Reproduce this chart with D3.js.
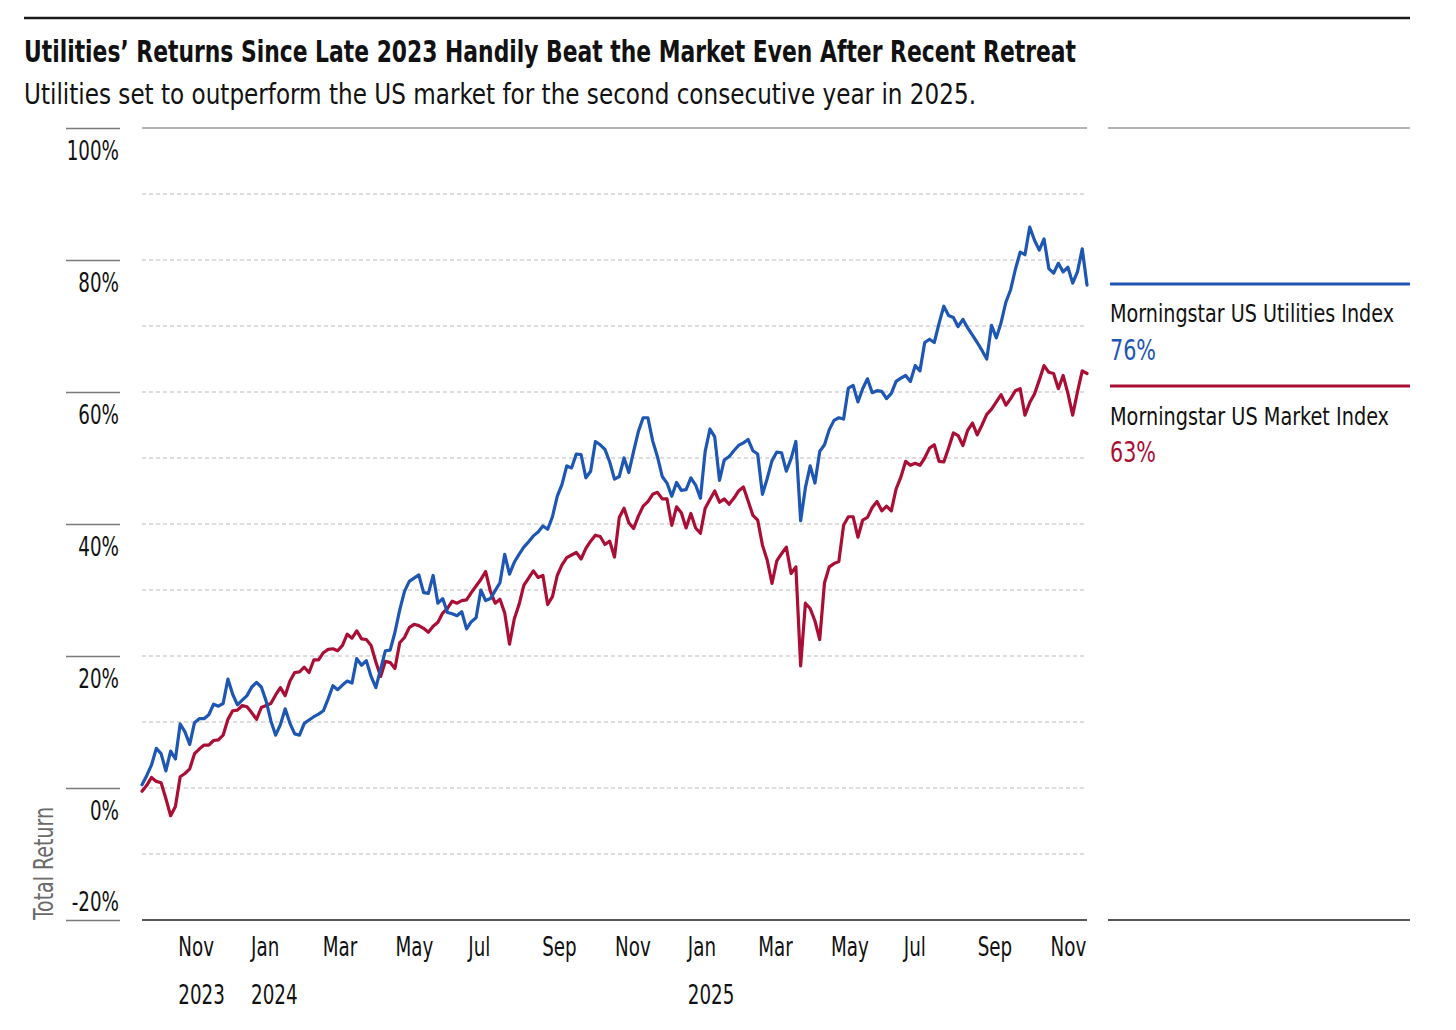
<!DOCTYPE html>
<html><head><meta charset="utf-8">
<script src="https://cdn.jsdelivr.net/npm/d3@7"></script>
<style>
body{margin:0;background:#fff}
svg text{font-family:"Liberation Sans Narrow","Arial Narrow","DejaVu Sans Condensed",Roboto,sans-serif;}
</style></head><body>
<svg id="c" width="1456" height="1030"></svg>
<script>
const titleText = "Utilities’ Returns Since Late 2023 Handily Beat the Market Even After Recent Retreat";
const subtitleText = "Utilities set to outperform the US market for the second consecutive year in 2025.";
const seriesNames = ["Morningstar US Utilities Index", "Morningstar US Market Index"];
const finalLabels = ["76%", "63%"];
const yTicks = [100, 80, 60, 40, 20, 0, -20];
const gridVals = [90, 80, 70, 60, 50, 40, 30, 20, 10, 0, -10];
const monthTicks = ["2023-11-01","2024-01-01","2024-03-01","2024-05-01","2024-07-01","2024-09-01","2024-11-01","2025-01-01","2025-03-01","2025-05-01","2025-07-01","2025-09-01","2025-11-01"];
const monthLabels = ["Nov","Jan","Mar","May","Jul","Sep","Nov","Jan","Mar","May","Jul","Sep","Nov"];
const yearTicks = ["2023-11-01","2024-01-01","2025-01-01"];
const yearLabels = ["2023","2024","2025"];

const dates = [
"2023-10-02","2023-10-06","2023-10-10","2023-10-14","2023-10-18","2023-10-22","2023-10-26","2023-10-30",
"2023-11-03","2023-11-07","2023-11-11","2023-11-15","2023-11-19","2023-11-23","2023-11-27",
"2023-12-01","2023-12-05","2023-12-09","2023-12-13","2023-12-17","2023-12-21","2023-12-25","2023-12-29",
"2024-01-02","2024-01-06","2024-01-10","2024-01-14","2024-01-18","2024-01-22","2024-01-26","2024-01-30",
"2024-02-03","2024-02-07","2024-02-11","2024-02-15","2024-02-19","2024-02-23","2024-02-27",
"2024-03-02","2024-03-06","2024-03-10","2024-03-14","2024-03-18","2024-03-22","2024-03-26","2024-03-30",
"2024-04-03","2024-04-07","2024-04-11","2024-04-15","2024-04-19","2024-04-23","2024-04-27",
"2024-05-01","2024-05-05","2024-05-09","2024-05-13","2024-05-17","2024-05-21","2024-05-25","2024-05-29",
"2024-06-02","2024-06-06","2024-06-10","2024-06-14","2024-06-18","2024-06-22","2024-06-26","2024-06-30",
"2024-07-04","2024-07-08","2024-07-12","2024-07-16","2024-07-20","2024-07-24","2024-07-28",
"2024-08-01","2024-08-05","2024-08-09","2024-08-13","2024-08-17","2024-08-21","2024-08-25","2024-08-29",
"2024-09-02","2024-09-06","2024-09-10","2024-09-14","2024-09-18","2024-09-22","2024-09-26","2024-09-30",
"2024-10-04","2024-10-08","2024-10-12","2024-10-16","2024-10-20","2024-10-24","2024-10-28",
"2024-11-01","2024-11-05","2024-11-09","2024-11-13","2024-11-17","2024-11-21","2024-11-25","2024-11-29",
"2024-12-03","2024-12-07","2024-12-11","2024-12-15","2024-12-19","2024-12-23","2024-12-27","2024-12-31",
"2025-01-04","2025-01-08","2025-01-12","2025-01-16","2025-01-20","2025-01-24","2025-01-28",
"2025-02-01","2025-02-05","2025-02-09","2025-02-13","2025-02-17","2025-02-21","2025-02-25",
"2025-03-01","2025-03-05","2025-03-09","2025-03-13","2025-03-17","2025-03-21","2025-03-25","2025-03-29",
"2025-04-02","2025-04-06","2025-04-10","2025-04-14","2025-04-18","2025-04-22","2025-04-26","2025-04-30",
"2025-05-04","2025-05-08","2025-05-12","2025-05-16","2025-05-20","2025-05-24","2025-05-28",
"2025-06-01","2025-06-05","2025-06-09","2025-06-13","2025-06-17","2025-06-21","2025-06-25","2025-06-29",
"2025-07-03","2025-07-07","2025-07-11","2025-07-15","2025-07-19","2025-07-23","2025-07-27","2025-07-31",
"2025-08-04","2025-08-08","2025-08-12","2025-08-16","2025-08-20","2025-08-24","2025-08-28",
"2025-09-01","2025-09-05","2025-09-09","2025-09-13","2025-09-17","2025-09-21","2025-09-25","2025-09-29",
"2025-10-03","2025-10-07","2025-10-11","2025-10-15","2025-10-19","2025-10-23","2025-10-27","2025-10-31",
"2025-11-04","2025-11-08","2025-11-12","2025-11-16","2025-11-20","2025-11-24","2025-11-28","2025-12-02"
];

const utilities = [
0.5, 1.9, 3.5, 6.0, 5.2, 2.6, 5.6, 4.4, 9.7, 8.5,
6.6, 9.9, 10.5, 10.5, 11.1, 12.7, 12.4, 12.8, 16.5, 14.2,
12.6, 13.3, 14.0, 15.3, 16.0, 15.3, 13.2, 10.2, 8.0, 9.6,
12.0, 9.8, 8.2, 8.0, 9.8, 10.3, 10.8, 11.2, 11.7, 13.5,
15.5, 14.9, 15.6, 16.2, 15.9, 19.6, 18.6, 19.3, 16.9, 15.2,
18.0, 20.8, 20.9, 23.6, 27.0, 29.8, 31.3, 31.8, 32.3, 29.6,
29.5, 32.2, 28.0, 28.7, 26.6, 26.4, 26.1, 26.7, 24.1, 25.2,
25.8, 30.0, 28.4, 28.7, 29.9, 31.1, 35.4, 32.4, 34.2, 35.4,
36.5, 37.3, 38.2, 38.8, 39.7, 39.2, 41.1, 44.2, 46.0, 48.8,
48.5, 50.6, 50.5, 47.0, 48.0, 52.5, 52.0, 51.3, 49.4, 46.8,
47.2, 50.0, 47.8, 51.0, 54.0, 56.1, 56.1, 52.6, 50.2, 47.2,
46.2, 44.2, 46.3, 45.1, 45.2, 47.0, 45.9, 43.9, 51.0, 54.4,
53.2, 46.6, 49.7, 50.2, 51.1, 51.9, 52.3, 52.8, 51.1, 50.6,
44.5, 46.9, 49.6, 50.9, 50.8, 48.0, 49.9, 52.5, 40.5, 45.5,
48.8, 46.2, 51.0, 52.0, 54.3, 55.7, 56.1, 55.9, 60.6, 61.0,
58.5, 60.5, 62.0, 59.9, 60.2, 60.1, 59.0, 59.8, 61.6, 62.1,
62.5, 61.6, 64.0, 63.2, 67.5, 68.0, 67.5, 70.4, 73.0, 71.6,
71.3, 69.9, 71.0, 69.7, 68.6, 67.5, 66.3, 65.0, 70.1, 68.2,
70.5, 73.6, 75.5, 78.6, 81.2, 80.8, 85.0, 83.0, 81.5, 83.2,
78.7, 78.0, 79.5, 78.2, 78.9, 76.5, 78.2, 81.7, 76.2
];

const market = [
-0.5, 0.4, 1.6, 1.0, 0.8, -1.6, -4.2, -2.8, 1.7, 2.2,
2.9, 5.2, 5.9, 6.5, 6.5, 7.2, 7.3, 8.0, 10.4, 11.7,
11.8, 12.5, 12.3, 11.4, 10.4, 12.2, 12.5, 12.8, 14.1, 15.2,
14.0, 16.2, 17.5, 17.6, 18.3, 17.5, 19.4, 19.4, 20.5, 21.0,
21.1, 20.8, 21.6, 23.3, 22.7, 23.8, 22.6, 22.5, 21.6, 19.1,
16.9, 19.2, 19.0, 18.1, 22.0, 22.8, 24.3, 24.8, 24.6, 24.2,
23.6, 24.5, 25.1, 26.5, 27.2, 28.3, 28.0, 28.4, 28.5, 29.6,
30.6, 31.6, 32.8, 29.8, 28.0, 28.6, 26.5, 21.8, 25.6, 27.8,
30.7, 31.8, 32.9, 31.9, 32.2, 27.8, 29.0, 32.2, 33.8, 34.9,
35.3, 35.7, 34.7, 36.3, 37.4, 38.3, 38.1, 36.9, 37.4, 35.0,
41.0, 42.4, 40.2, 39.3, 41.2, 42.7, 43.4, 44.5, 44.8, 43.8,
43.8, 39.8, 42.6, 41.7, 39.4, 41.6, 39.4, 38.6, 42.4, 43.7,
45.0, 43.3, 43.8, 43.0, 43.9, 45.0, 45.6, 43.5, 41.3, 40.6,
36.8, 34.5, 31.0, 34.4, 35.5, 36.5, 32.5, 33.5, 18.5, 28.0,
27.2, 25.3, 22.5, 31.1, 33.5, 34.0, 34.3, 39.8, 41.1, 41.1,
38.0, 40.6, 41.0, 42.5, 43.4, 42.0, 42.7, 42.0, 45.3, 47.1,
49.5, 48.9, 49.2, 48.9, 50.0, 51.5, 52.0, 49.5, 49.4, 51.5,
53.8, 53.4, 51.9, 54.2, 55.3, 53.5, 55.0, 56.6, 57.4, 58.5,
59.6, 58.0, 59.0, 60.2, 60.5, 56.5, 58.4, 59.7, 61.8, 64.0,
63.0, 62.8, 60.5, 62.5, 59.8, 56.5, 60.0, 63.2, 62.8
];

const colors = ["#1d56b3", "#aa0e35"];

const parse = d3.utcParse("%Y-%m-%d");
const x = d3.scaleUtc().domain([parse("2023-10-02"), parse("2025-12-02")]).range([142, 1087]);
const y = d3.scaleLinear().domain([-20, 100]).range([920, 128]);
const svg = d3.select("#c");

function fitW(sel, w) { sel.attr("textLength", w).attr("lengthAdjust", "spacingAndGlyphs"); }
function condense(sel, f) {
  sel.each(function () {
    const n = this.getComputedTextLength();
    this.setAttribute("textLength", n * f);
    this.setAttribute("lengthAdjust", "spacingAndGlyphs");
  });
}

// top rule
svg.append("line").attr("x1", 24).attr("x2", 1410).attr("y1", 18).attr("y2", 18)
  .attr("stroke", "#1a1a1a").attr("stroke-width", 2.5);

// title & subtitle
const t = svg.append("text").attr("x", 24).attr("y", 62).attr("font-size", 30)
  .attr("font-weight", 700).attr("fill", "#111").text(titleText);
fitW(t, 1052);
const st = svg.append("text").attr("x", 24).attr("y", 104).attr("font-size", 29)
  .attr("fill", "#111").text(subtitleText);
fitW(st, 952);

// gridlines
svg.append("g").selectAll("line").data(gridVals).join("line")
  .attr("x1", 142).attr("x2", 1087).attr("y1", d => y(d)).attr("y2", d => y(d))
  .attr("stroke", "#d2d2d2").attr("stroke-width", 1.5).attr("stroke-dasharray", "4,3");
svg.append("line").attr("x1", 142).attr("x2", 1087).attr("y1", y(100)).attr("y2", y(100))
  .attr("stroke", "#9a9a9a").attr("stroke-width", 1.5);
svg.append("line").attr("x1", 142).attr("x2", 1087).attr("y1", y(-20)).attr("y2", y(-20))
  .attr("stroke", "#555").attr("stroke-width", 2);

// right panel lines
svg.append("line").attr("x1", 1108).attr("x2", 1410).attr("y1", y(100)).attr("y2", y(100))
  .attr("stroke", "#9a9a9a").attr("stroke-width", 1.5);
svg.append("line").attr("x1", 1108).attr("x2", 1410).attr("y1", y(-20)).attr("y2", y(-20))
  .attr("stroke", "#555").attr("stroke-width", 2);

// legend
const lg = svg.append("g");
const l1 = lg.append("text").attr("x", 1110).attr("y", 322).attr("font-size", 24.5).attr("fill", "#111").text(seriesNames[0]);
const factor = 284 / l1.node().getComputedTextLength();
fitW(l1, 284);
const l2 = lg.append("text").attr("x", 1110).attr("y", 425).attr("font-size", 24.5).attr("fill", "#111").text(seriesNames[1]);
fitW(l2, 279);
const v1 = lg.append("text").attr("x", 1110).attr("y", 360).attr("font-size", 29).attr("fill", colors[0]).text(finalLabels[0]);
fitW(v1, 46);
const v2 = lg.append("text").attr("x", 1110).attr("y", 462).attr("font-size", 29).attr("fill", colors[1]).text(finalLabels[1]);
fitW(v2, 46);
lg.append("line").attr("x1", 1110).attr("x2", 1410).attr("y1", 284).attr("y2", 284)
  .attr("stroke", colors[0]).attr("stroke-width", 3);
lg.append("line").attr("x1", 1110).attr("x2", 1410).attr("y1", 386).attr("y2", 386)
  .attr("stroke", colors[1]).attr("stroke-width", 3);

const axisFactor = factor * 0.9;

// y axis
const gy = svg.append("g").attr("transform", "translate(120,0)")
  .call(d3.axisLeft(y).tickValues(yTicks).tickSize(54).tickFormat(d => d + "%"));
gy.select(".domain").remove();
gy.selectAll(".tick line").attr("stroke", "#7a7a7a").attr("stroke-width", 1.5);
gy.selectAll(".tick text").attr("x", -1).attr("dy", null)
  .attr("y", d => d === -20 ? -10 : 31).attr("font-size", 26).attr("fill", "#111");
condense(gy.selectAll(".tick text"), axisFactor);

// y title
const yt = svg.append("text").attr("transform", "translate(53,920) rotate(-90)")
  .attr("font-size", 26).attr("fill", "#6a6a6a").text("Total Return");
fitW(yt, 113);

// x axis months
const gx = svg.append("g").attr("transform", "translate(0,920)")
  .call(d3.axisBottom(x).tickValues(monthTicks.map(parse)).tickSize(0).tickFormat((d, i) => monthLabels[i]));
gx.select(".domain").remove();
gx.selectAll(".tick text").attr("text-anchor", "start").attr("y", 36).attr("dy", null)
  .attr("font-size", 26).attr("fill", "#111");
condense(gx.selectAll(".tick text"), axisFactor);

const gx2 = svg.append("g").attr("transform", "translate(0,920)")
  .call(d3.axisBottom(x).tickValues(yearTicks.map(parse)).tickSize(0).tickFormat((d, i) => yearLabels[i]));
gx2.select(".domain").remove();
gx2.selectAll(".tick text").attr("text-anchor", "start").attr("y", 84).attr("dy", null)
  .attr("font-size", 26).attr("fill", "#111");
condense(gx2.selectAll(".tick text"), axisFactor);

// lines
const series = [utilities, market].map(vals => dates.map((d, i) => ({ date: parse(d), v: vals[i] })));
const line = d3.line().x(d => x(d.date)).y(d => y(d.v));
[1, 0].forEach(i => {
  svg.append("path").datum(series[i]).attr("d", line).attr("fill", "none")
    .attr("stroke", colors[i]).attr("stroke-width", 3.2).attr("stroke-linejoin", "round").attr("stroke-linecap", "round");
});
</script>
</body></html>
